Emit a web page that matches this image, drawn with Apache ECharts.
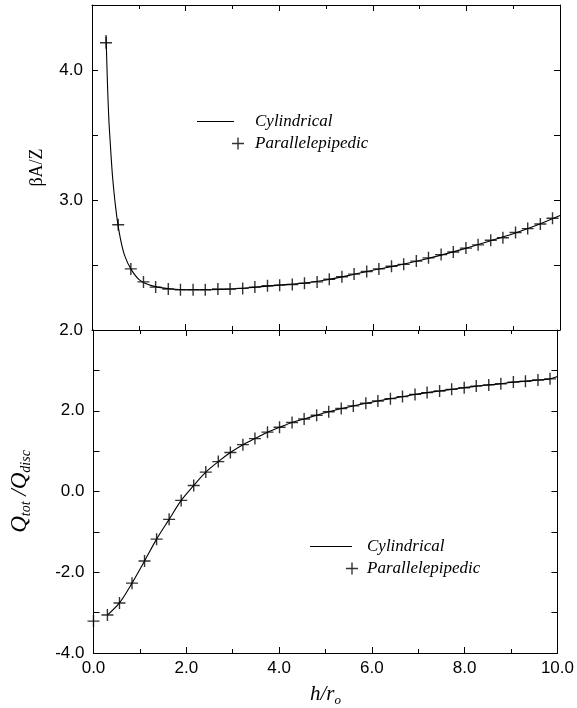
<!DOCTYPE html>
<html>
<head>
    <meta charset="utf-8">
    <title>ECharts</title>
    <script src="https://cdn.jsdelivr.net/npm/echarts@6/dist/echarts.min.js"></script>
    <style>
        html, body { margin: 0; padding: 0; background: #fff; }
    </style>
</head>
<body>
<div id="main" style="width: 577px;height:708px;"></div>
<script type="text/javascript">

    // h/r_o positions of the parallelepipedic points
    var hPar = [0.30, 0.56, 0.83, 1.10, 1.36, 1.63, 1.89, 2.16, 2.42, 2.69, 2.95, 3.22, 3.48,
                3.75, 4.01, 4.28, 4.54, 4.81, 5.07, 5.34, 5.60, 5.87, 6.13, 6.40, 6.66, 6.93,
                7.19, 7.46, 7.72, 7.99, 8.25, 8.52, 8.78, 9.05, 9.31, 9.58, 9.84];
    // top panel, beta A / Z
    var parTop = [4.21, 2.81, 2.47, 2.37, 2.33, 2.315, 2.31, 2.31, 2.31, 2.315, 2.315, 2.32, 2.33,
                  2.34, 2.345, 2.35, 2.36, 2.37, 2.39, 2.41, 2.43, 2.45, 2.47, 2.49, 2.505, 2.53,
                  2.555, 2.58, 2.60, 2.63, 2.655, 2.69, 2.71, 2.75, 2.78, 2.815, 2.86];
    var cylTopX = [0.30, 0.33, 0.36, 0.39, 0.43, 0.47, 0.51, 0.55, 0.62, 0.70, 0.83, 1.0, 1.2, 1.4,
                   1.7, 2.0, 2.5, 3.0, 3.5, 4.0, 4.5, 5.0, 5.5, 6.0, 6.5, 7.0, 7.5, 8.0, 8.5, 9.0, 9.5, 10.0];
    var cylTopY = [4.27, 3.90, 3.62, 3.44, 3.22, 3.06, 2.93, 2.82, 2.68, 2.57, 2.47, 2.39, 2.35, 2.33,
                   2.315, 2.31, 2.31, 2.315, 2.33, 2.345, 2.36, 2.385, 2.42, 2.46, 2.495, 2.535, 2.58,
                   2.63, 2.685, 2.74, 2.805, 2.88];

    // bottom panel, Q_tot / Q_disc
    var hParBot = [0.0].concat(hPar);
    var parBot = [-3.21, -3.06, -2.76, -2.27, -1.72, -1.18, -0.69, -0.22, 0.15, 0.48, 0.74, 0.965,
                  1.16, 1.31, 1.47, 1.59, 1.71, 1.795, 1.89, 1.975, 2.055, 2.12, 2.185, 2.24, 2.30,
                  2.35, 2.405, 2.45, 2.49, 2.53, 2.57, 2.61, 2.64, 2.67, 2.71, 2.73, 2.76, 2.79];
    var cylBotX = hPar.concat([10.0]);
    var cylBotY = [-3.06, -2.76, -2.27, -1.72, -1.18, -0.69, -0.22, 0.15, 0.48, 0.74, 0.965,
                   1.16, 1.31, 1.47, 1.59, 1.71, 1.795, 1.89, 1.975, 2.055, 2.12, 2.185, 2.24, 2.30,
                   2.35, 2.405, 2.45, 2.49, 2.53, 2.57, 2.61, 2.64, 2.67, 2.71, 2.73, 2.76, 2.79, 2.85];

    var xTicks = ['0.0', '2.0', '4.0', '6.0', '8.0', '10.0'];

    function pairs(xs, ys) {
        return xs.map(function (x, i) { return [x, ys[i]]; });
    }

    var plus = 'path://M0,10.6H24V13.4H0Z M10.6,0H13.4V24H10.6Z';
    var serif = '"Liberation Serif", "DejaVu Serif", serif';
    var sans = '"Liberation Sans", Arial, sans-serif';
    var black = '#000';

    function xAxis(grid, pos, labels) {
        return {
            type: 'value', gridIndex: grid, position: pos, min: 0, max: 10, interval: 2,
            axisLine: {onZero: false, lineStyle: {color: black, width: 1}},
            axisTick: {inside: true, length: 6, lineStyle: {color: black}},
            minorTick: {show: true, splitNumber: 2, length: 4, lineStyle: {color: black}},
            splitLine: {show: false},
            axisLabel: {
                show: labels, color: black, fontFamily: sans, fontSize: 17, margin: 7,
                formatter: function (v) { return xTicks[v / 2]; }
            }
        };
    }

    function yAxis(grid, pos, min, max, step, labelFn) {
        return {
            type: 'value', gridIndex: grid, position: pos, min: min, max: max, interval: step,
            axisLine: {onZero: false, lineStyle: {color: black, width: 1}},
            axisTick: {inside: true, length: 6, lineStyle: {color: black}},
            splitLine: {show: false},
            axisLabel: {
                show: !!labelFn, color: black, fontFamily: sans, fontSize: 17, margin: 9,
                formatter: labelFn
            }
        };
    }

    var xs = [xAxis(0, 'bottom', false), xAxis(0, 'top', false), xAxis(1, 'bottom', true), xAxis(1, 'top', false)];
    xs[2].name = '{i|h/r}{s|o}';
    xs[2].nameLocation = 'middle';
    xs[2].nameGap = 28;
    xs[2].nameTextStyle = {
        rich: {
            i: {fontFamily: serif, fontStyle: 'italic', fontSize: 21, lineHeight: 26, color: black},
            s: {fontFamily: serif, fontStyle: 'italic', fontSize: 13, lineHeight: 12, verticalAlign: 'bottom', color: black}
        }
    };

    var ys = [
        yAxis(0, 'left', 2, 4.5, 0.5, function (v) { return Math.abs(v - Math.round(v)) < 1e-6 ? v.toFixed(1) : ''; }),
        yAxis(0, 'right', 2, 4.5, 0.5, null),
        yAxis(1, 'left', -4, 4, 1, function (v) { return (v % 2 === 0 && v < 4) ? v.toFixed(1) : ''; }),
        yAxis(1, 'right', -4, 4, 1, null)
    ];
    ys[0].name = 'βA/Z';
    ys[0].nameLocation = 'middle';
    ys[0].nameGap = 46;
    ys[0].nameTextStyle = {fontFamily: serif, fontSize: 18, color: black};
    ys[2].name = '{i|Q}{s|tot}{i| /Q}{s|disc}';
    ys[2].nameLocation = 'middle';
    ys[2].nameGap = 60;
    ys[2].nameTextStyle = {
        rich: {
            i: {fontFamily: serif, fontStyle: 'italic', fontSize: 23, lineHeight: 28, color: black},
            s: {fontFamily: serif, fontStyle: 'italic', fontSize: 14, lineHeight: 14, verticalAlign: 'bottom', color: black}
        }
    };

    var legendText = {fontFamily: serif, fontStyle: 'italic', fontSize: 17, color: black};

    var myChart = echarts.init(document.getElementById('main'));

    myChart.setOption({
        animation: false,
        backgroundColor: '#fff',
        grid: [
            {left: 92, right: 17, top: 5, height: 325},
            {left: 92, right: 17, top: 330, height: 324}
        ],
        legend: [
            {data: ['Cylindrical'], left: 197, top: 113, padding: 0, icon: 'rect', itemWidth: 37, itemHeight: 1,
                textStyle: Object.assign({padding: [0, 0, 0, 16]}, legendText), selectedMode: false},
            {data: ['Parallelepipedic'], left: 232, top: 135, padding: 0, icon: plus, itemWidth: 12, itemHeight: 12,
                textStyle: Object.assign({padding: [0, 0, 0, 6]}, legendText), selectedMode: false},
            {data: ['Cylindrical'], left: 310, top: 538, padding: 0, icon: 'rect', itemWidth: 42, itemHeight: 1,
                textStyle: Object.assign({padding: [0, 0, 0, 10]}, legendText), selectedMode: false},
            {data: ['Parallelepipedic'], left: 346, top: 560, padding: 0, icon: plus, itemWidth: 12, itemHeight: 12,
                textStyle: Object.assign({padding: [0, 0, 0, 4]}, legendText), selectedMode: false}
        ],
        xAxis: xs,
        yAxis: ys,
        series: [
            {
                name: 'Cylindrical', type: 'line', xAxisIndex: 0, yAxisIndex: 0,
                data: pairs(cylTopX, cylTopY), showSymbol: false, symbol: 'none', smooth: 0.3,
                color: black, lineStyle: {color: black, width: 1.1}
            },
            {
                name: 'Parallelepipedic', type: 'scatter', xAxisIndex: 0, yAxisIndex: 0,
                data: pairs(hPar, parTop), symbol: plus, symbolSize: 12,
                color: black, itemStyle: {color: black}
            },
            {
                name: 'Cylindrical', type: 'line', xAxisIndex: 2, yAxisIndex: 2,
                data: pairs(cylBotX, cylBotY), showSymbol: false, symbol: 'none', smooth: 0.3,
                color: black, lineStyle: {color: black, width: 1.1}
            },
            {
                name: 'Parallelepipedic', type: 'scatter', xAxisIndex: 2, yAxisIndex: 2,
                data: pairs(hParBot, parBot), symbol: plus, symbolSize: 12, clip: false,
                color: black, itemStyle: {color: black}
            }
        ]
    });

</script>
</body>
</html>
